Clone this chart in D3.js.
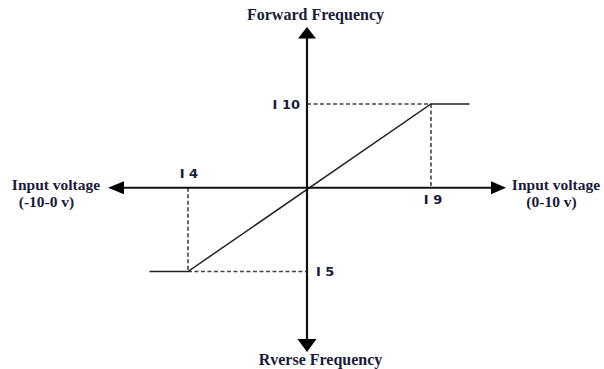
<!DOCTYPE html>
<html><head><meta charset="utf-8">
<script src="https://cdn.jsdelivr.net/npm/d3@7"></script>
<style>html,body{margin:0;padding:0;background:#fff;}svg{display:block;}</style>
</head><body>
<svg id="c" width="604" height="369"></svg>
<script>
// Data (voltage units vs frequency units)
const curveX = [-12.7, -9.6, 10, 13.1];
const curveY = [-10, -10, 10, 10];
const kneeUpper = [10, 10];
const kneeLower = [-9.6, -10];
const tickLabels = ["I 10", "I 9", "I 4", "I 5"];
const axisTitles = ["Forward Frequency", "Rverse Frequency"];
const leftTitle = ["Input voltage", "(-10-0 v)"];
const rightTitle = ["Input voltage", "(0-10 v)"];
const axisExtentX = [-16.05, 16.05];
const axisExtentY = [-19.6, 19.2];

const svg = d3.select("#c");
const x = d3.scaleLinear().domain([-10, 10]).range([183, 431]);
const y = d3.scaleLinear().domain([-10, 10]).range([271.5, 104]);
const X0 = x(0), Y0 = y(0);
const txt = "#1b1b3a";

// dashed guides
const dashStyle = s => s.attr("stroke", "#444").attr("stroke-width", 1.6).attr("stroke-dasharray", "4,2.5").attr("fill", "none");
svg.append("line").attr("x1", X0).attr("x2", x(kneeUpper[0])).attr("y1", y(kneeUpper[1])).attr("y2", y(kneeUpper[1])).call(dashStyle);
svg.append("line").attr("x1", x(kneeUpper[0])).attr("x2", x(kneeUpper[0])).attr("y1", y(kneeUpper[1])).attr("y2", Y0).call(dashStyle);
svg.append("line").attr("x1", x(kneeLower[0])).attr("x2", x(kneeLower[0])).attr("y1", Y0).attr("y2", y(kneeLower[1])).call(dashStyle);
svg.append("line").attr("x1", x(kneeLower[0])).attr("x2", X0).attr("y1", y(kneeLower[1])).attr("y2", y(kneeLower[1])).call(dashStyle);

// transfer curve
const pts = curveX.map((v, i) => [v, curveY[i]]);
svg.append("path").attr("d", d3.line().x(d => x(d[0])).y(d => y(d[1]))(pts))
  .attr("fill", "none").attr("stroke", "#222").attr("stroke-width", 1.5);

// axes
const xl = x(axisExtentX[0]), xr = x(axisExtentX[1]);
const yt = y(axisExtentY[1]), yb = y(axisExtentY[0]);
svg.append("line").attr("x1", xl + 12).attr("x2", xr - 12).attr("y1", Y0).attr("y2", Y0).attr("stroke", "#111").attr("stroke-width", 2.2);
svg.append("line").attr("x1", X0).attr("x2", X0).attr("y1", yt + 8).attr("y2", yb - 8).attr("stroke", "#111").attr("stroke-width", 2.2);
const tri = (p) => svg.append("path").attr("d", "M" + p.map(q => q.join(",")).join("L") + "Z").attr("fill", "#000");
tri([[xl, Y0], [xl + 16, Y0 - 6.5], [xl + 16, Y0 + 6.5]]);
tri([[xr, Y0], [xr - 15, Y0 - 6.5], [xr - 15, Y0 + 6.5]]);
tri([[X0, yt], [X0 - 9, yt + 11.5], [X0 + 9, yt + 11.5]]);
tri([[X0, yb], [X0 - 9.5, yb - 13], [X0 + 9.5, yb - 13]]);

// tick labels
const tf = "'DejaVu Sans', sans-serif";
const lab = (t, px, py, anchor) => svg.append("text").text(t).attr("x", px).attr("y", py)
  .attr("text-anchor", anchor).attr("font-family", tf).attr("font-weight", "bold").attr("font-size", 13).attr("fill", txt);
lab(tickLabels[0], X0 - 7, y(kneeUpper[1]) + 4.5, "end");
lab(tickLabels[1], x(kneeUpper[0]) + 2, Y0 + 16, "middle");
lab(tickLabels[2], x(kneeLower[0]) + 1, Y0 - 10, "middle");
lab(tickLabels[3], X0 + 9, y(kneeLower[1]) + 4, "start");

// titles
const sf = "'Liberation Serif', 'Times New Roman', serif";
const ttl = (t, px, py, anchor, fs) => svg.append("text").text(t).attr("x", px).attr("y", py)
  .attr("text-anchor", anchor).attr("font-family", sf).attr("font-weight", "bold").attr("font-size", fs).attr("fill", txt);
ttl(axisTitles[0], 315.5, 20, "middle", 16);
ttl(axisTitles[1], 320.5, 365, "middle", 16);
ttl(leftTitle[0], 56, 190, "middle", 15.5);
ttl(leftTitle[1], 46.5, 206.5, "middle", 15.5);
ttl(rightTitle[0], 556, 190, "middle", 15.5);
ttl(rightTitle[1], 551.5, 206.5, "middle", 15.5);
</script>
</body></html>
